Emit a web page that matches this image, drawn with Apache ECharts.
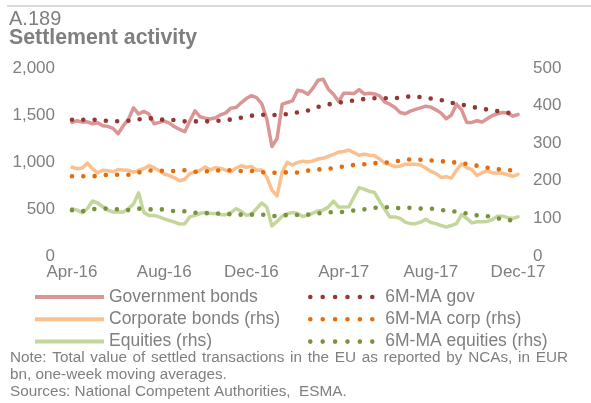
<!DOCTYPE html>
<html>
<head>
<meta charset="utf-8">
<title>Settlement activity</title>
<script src="https://cdn.jsdelivr.net/npm/echarts@6/dist/echarts.min.js"></script>
<style>
  html, body { margin: 0; padding: 0; background: #ffffff; }
  #chart { width: 591px; height: 403px; }
</style>
</head>
<body>
<div id="chart"></div>
<script>
// Weekly observations, first week of April 2016 to first week of December 2017
const firstWeek = [2016, 3, 1];      // 1 Apr 2016 (UTC year, month index, day)
const weekCount = 88;

// Month labels shown on the horizontal axis
const xTickLabels = ['Apr-16', 'Aug-16', 'Dec-16', 'Apr-17', 'Aug-17', 'Dec-17'];

// Government bonds, EUR bn (left axis)
const govBonds = [
  1421, 1439, 1424, 1428, 1407, 1418, 1386, 1379, 1358, 1300,
  1386, 1453, 1577, 1510, 1538, 1510, 1407, 1421, 1435, 1414,
  1375, 1347, 1322, 1439, 1545, 1481, 1467, 1457, 1470, 1502,
  1523, 1573, 1580, 1630, 1675, 1707, 1686, 1622, 1457, 1165,
  1250, 1615, 1633, 1650, 1763, 1752, 1720, 1785, 1870, 1880,
  1774, 1721, 1643, 1731, 1731, 1728, 1770, 1724, 1732, 1724,
  1703, 1636, 1615, 1580, 1527, 1513, 1541, 1559, 1576, 1594,
  1584, 1555, 1520, 1460, 1499, 1615, 1555, 1421, 1421, 1439,
  1425, 1460, 1495, 1513, 1527, 1520, 1488, 1505
];

// 6-month moving average of government bonds (left axis)
const govMA = [
  1449, 1449, 1449, 1449, 1449, 1447, 1442, 1438, 1435, 1433,
  1435, 1439, 1446, 1454, 1460, 1465, 1462, 1453, 1449, 1449,
  1446, 1439, 1432, 1432, 1432, 1432, 1432, 1433, 1436, 1440,
  1446, 1452, 1462, 1472, 1483, 1492, 1500, 1502, 1502, 1501,
  1498, 1503, 1509, 1518, 1528, 1535, 1548, 1565, 1587, 1600,
  1613, 1622, 1631, 1639, 1647, 1655, 1664, 1670, 1676, 1679,
  1679, 1679, 1677, 1677, 1686, 1694, 1697, 1697, 1690, 1682,
  1676, 1670, 1660, 1642, 1630, 1620, 1611, 1598, 1588, 1576,
  1566, 1558, 1550, 1541, 1532, 1524, 1516, 1510
];

// Corporate bonds, EUR bn (right axis)
const corpBonds = [
  236, 232, 234, 247, 232, 221, 228, 227, 224, 230,
  229, 228, 223, 228, 232, 240, 235, 227, 218, 214,
  208, 200, 204, 219, 223, 228, 237, 229, 235, 233,
  228, 224, 234, 240, 236, 238, 228, 229, 210, 175,
  160, 223, 249, 242, 249, 252, 250, 253, 258, 260,
  265, 270, 276, 278, 282, 275, 268, 271, 268, 267,
  258, 247, 243, 238, 239, 244, 244, 244, 242, 234,
  225, 219, 209, 211, 207, 228, 245, 235, 230, 214,
  221, 227, 221, 221, 220, 216, 212, 217
];

// 6-month moving average of corporate bonds (right axis)
const corpMA = [
  212, 212, 212, 212, 212, 213, 215, 216, 216, 216,
  216, 216, 219, 222, 225, 227, 228, 227, 226, 226,
  226, 227, 228, 227, 224, 224, 225, 226, 227, 228,
  228, 228, 227, 226, 226, 226, 225, 223, 222, 221,
  222, 223, 222, 221, 222, 224, 227, 229, 230, 231,
  232, 234, 236, 238, 240, 242, 243, 244, 246, 247,
  247, 248, 250, 251, 254, 256, 257, 257, 256, 255,
  254, 253, 252, 251, 250, 248, 247, 245, 243, 240,
  237, 235, 233, 231, 229, 228, 228, 228
];

// Equities, EUR bn (right axis)
const equities = [
  126, 122, 115, 126, 146, 141, 131, 122, 117, 117,
  117, 126, 138, 168, 116, 108, 108, 104, 99, 94,
  90, 85, 86, 104, 108, 113, 116, 113, 113, 110,
  110, 115, 126, 119, 108, 111, 126, 141, 130, 80,
  92, 106, 112, 116, 113, 105, 108, 114, 120, 122,
  130, 146, 130, 130, 131, 157, 182, 178, 172, 169,
  146, 124, 104, 104, 100, 90, 86, 86, 90, 98,
  89, 86, 81, 77, 81, 86, 110, 100, 88, 91,
  91, 92, 97, 106, 106, 102, 100, 104
];

// 6-month moving average of equities (right axis)
const equitiesMA = [
  122, 120, 119, 121, 124, 126, 126, 126, 125, 124,
  123, 122, 124, 126, 125, 124, 124, 124, 124, 121,
  119, 119, 119, 117, 115, 115, 114, 114, 113, 113,
  112, 111, 110, 110, 110, 110, 110, 110, 109, 107,
  106, 108, 109, 109, 109, 109, 110, 111, 113, 115,
  116, 117, 117, 117, 119, 121, 122, 124, 126, 128,
  130, 130, 129, 128, 127, 128, 128, 127, 126, 126,
  126, 125, 122, 121, 119, 118, 116, 113, 110, 108,
  107, 106, 103, 100, 98, 95, 95, 95
];

const noteLines = [
  'Note: Total value of settled transactions in the EU as reported by NCAs, in EUR',
  'bn, one-week moving averages.',
  'Sources: National Competent Authorities,  ESMA.'
];

// ---- helpers ----
const monthNames = ['Jan', 'Feb', 'Mar', 'Apr', 'May', 'Jun', 'Jul', 'Aug', 'Sep', 'Oct', 'Nov', 'Dec'];
const weeks = [];
for (let i = 0; i < weekCount; i++) {
  const d = new Date(Date.UTC(firstWeek[0], firstWeek[1], firstWeek[2] + 7 * i));
  weeks.push(d.toISOString().slice(0, 10));
}
function monthLabel(iso) {
  const parts = iso.split('-');
  return monthNames[+parts[1] - 1] + '-' + parts[0].slice(2);
}
function isTickWeek(iso) {
  return +iso.slice(8, 10) <= 7 && xTickLabels.indexOf(monthLabel(iso)) >= 0;
}

const FONT = '"Liberation Sans", Arial, Helvetica, sans-serif';
const NOTE_FONT = '15.3px ' + FONT;
const GREY = '#7f7f7f';

// Justified note line: words spread evenly between two x positions
const measureCtx = document.createElement('canvas').getContext('2d');
function justifiedWords(text, x0, x1, y) {
  measureCtx.font = NOTE_FONT;
  const words = text.split(' ');
  const widths = words.map(w => measureCtx.measureText(w).width);
  const total = widths.reduce((a, b) => a + b, 0);
  const gap = (x1 - x0 - total) / (words.length - 1);
  let x = x0;
  return words.map((w, i) => {
    const el = { type: 'text', x, y, silent: true,
      style: { text: w, font: NOTE_FONT, fill: GREY, verticalAlign: 'middle' } };
    x += widths[i] + gap;
    return el;
  });
}

const colors = {
  gov: '#d99694', govMA: '#953735',
  corp: '#fac090', corpMA: '#e46c0a',
  eq: '#c3d69b', eqMA: '#77933c'
};

function solidLine(name, data, axis, color) {
  return {
    name, type: 'line', data, yAxisIndex: axis, symbol: 'none', z: 2,
    itemStyle: { color },
    lineStyle: { color, width: 3.5, join: 'round', cap: 'round' },
    emphasis: { disabled: true }
  };
}
function dottedLine(name, data, axis, color) {
  return {
    name, type: 'line', data, yAxisIndex: axis, symbol: 'none', z: 3,
    itemStyle: { color },
    lineStyle: { color, width: 4.6, type: [0, 11.3], cap: 'round' },
    emphasis: { disabled: true }
  };
}

const chart = echarts.init(document.getElementById('chart'), null, { renderer: 'canvas' });

chart.setOption({
  animation: false,
  backgroundColor: '#ffffff',
  textStyle: { fontFamily: FONT },
  title: [
    { text: 'A.189', left: 9, top: 9, padding: 0,
      textStyle: { fontFamily: FONT, fontSize: 20, fontWeight: 'normal', color: GREY } },
    { text: 'Settlement activity', left: 9, top: 28, padding: 0,
      textStyle: { fontFamily: FONT, fontSize: 21.3, fontWeight: 'bold', color: GREY } }
  ],
  grid: { left: 72, right: 73, top: 68, bottom: 147, containLabel: false },
  xAxis: {
    type: 'category',
    data: weeks,
    boundaryGap: false,
    axisLine: { show: false },
    axisTick: { show: false },
    splitLine: { show: false },
    axisLabel: {
      interval: (idx, val) => isTickWeek(val),
      formatter: (val) => monthLabel(val),
      hideOverlap: false,
      color: GREY, fontSize: 17, fontFamily: FONT, margin: 8
    }
  },
  yAxis: [
    {
      type: 'value', min: 0, max: 2000, interval: 500, position: 'left',
      axisLine: { show: false }, axisTick: { show: false }, splitLine: { show: false },
      axisLabel: {
        color: GREY, fontSize: 17, fontFamily: FONT, margin: 17,
        formatter: (v) => v.toLocaleString('en-US')
      }
    },
    {
      type: 'value', min: 0, max: 500, interval: 100, position: 'right',
      axisLine: { show: false }, axisTick: { show: false }, splitLine: { show: false },
      axisLabel: { color: GREY, fontSize: 17, fontFamily: FONT, margin: 15 }
    }
  ],
  legend: [
    {
      data: ['Government bonds', 'Corporate bonds (rhs)', 'Equities (rhs)'],
      orient: 'vertical', left: 33, top: 288, padding: 0,
      itemWidth: 69, itemHeight: 14, itemGap: 4.3,
      selectedMode: false,
      itemStyle: { opacity: 0 },
      lineStyle: { width: 4, type: 'solid', cap: 'butt' },
      textStyle: { fontFamily: FONT, fontSize: 17.5, color: GREY, lineHeight: 17 }
    },
    {
      data: ['6M-MA gov', '6M-MA corp (rhs)', '6M-MA equities (rhs)'],
      orient: 'vertical', left: 308, top: 288, padding: 0,
      itemWidth: 70, itemHeight: 14, itemGap: 4.3,
      selectedMode: false,
      itemStyle: { opacity: 0 },
      lineStyle: { width: 4.6, type: [0, 12.4], cap: 'round' },
      textStyle: { fontFamily: FONT, fontSize: 17.5, color: GREY, lineHeight: 17 }
    }
  ],
  graphic: [
    { type: 'line', shape: { x1: 7, y1: 6, x2: 591, y2: 6 },
      style: { stroke: '#d9d9d9', lineWidth: 2 }, silent: true }
  ].concat(justifiedWords(noteLines[0], 10, 568, 358)).concat([
    { type: 'text', x: 10, y: 375, silent: true,
      style: { text: noteLines[1], font: NOTE_FONT, fill: GREY, verticalAlign: 'middle' } },
    { type: 'text', x: 10, y: 392, silent: true,
      style: { text: noteLines[2], font: NOTE_FONT, fill: GREY, verticalAlign: 'middle' } }
  ]),
  series: [
    solidLine('Government bonds', govBonds, 0, colors.gov),
    solidLine('Corporate bonds (rhs)', corpBonds, 1, colors.corp),
    solidLine('Equities (rhs)', equities, 1, colors.eq),
    dottedLine('6M-MA gov', govMA, 0, colors.govMA),
    dottedLine('6M-MA corp (rhs)', corpMA, 1, colors.corpMA),
    dottedLine('6M-MA equities (rhs)', equitiesMA, 1, colors.eqMA)
  ]
});
</script>
</body>
</html>
